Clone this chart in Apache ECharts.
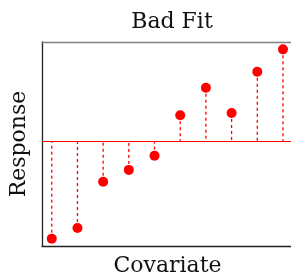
<!DOCTYPE html>
<html>
<head>
<meta charset="utf-8">
<script src="https://cdn.jsdelivr.net/npm/echarts@6/dist/echarts.min.js"></script>
<style>
  html, body { margin: 0; padding: 0; background: #fff; }
  #chart { width: 291px; height: 277px; }
</style>
</head>
<body>
<div id="chart"></div>
<script>
// 数据
const covariate = [1, 2, 3, 4, 5, 6, 7, 8, 9, 10]
const response = [0.36, 0.88, 3.15, 3.73, 4.43, 6.41, 7.76, 6.52, 8.54, 9.64]
const meanResponse = response.reduce((a, b) => a + b, 0) / response.length

const chart = echarts.init(document.getElementById('chart'))
const font = 'DejaVu Serif'

const option = {
  animation: false,
  title: {
    text: 'Bad Fit',
    left: 167,
    textAlign: 'center',
    top: 6,
    textStyle: { fontFamily: font, fontWeight: 'normal', fontSize: 22, color: '#111' }
  },
  // 右侧边框在画面外
  grid: { left: 42, top: 42, width: 251, bottom: 31, outerBoundsMode: 'none' },
  xAxis: [
    {
      type: 'value',
      min: 0.62,
      max: 10.39,
      name: 'Covariate',
      nameLocation: 'middle',
      nameGap: 9,
      nameTextStyle: { fontFamily: font, fontSize: 22, color: '#111', verticalAlign: 'top' },
      axisLine: { show: true, lineStyle: { color: '#222', width: 1.3 } },
      axisTick: { show: false },
      axisLabel: { show: false },
      splitLine: { show: false }
    },
    {
      type: 'value',
      position: 'top',
      min: 0.62,
      max: 10.39,
      axisLine: { show: true, lineStyle: { color: '#808080', width: 1.3 } },
      axisTick: { show: false },
      axisLabel: { show: false },
      splitLine: { show: false }
    }
  ],
  yAxis: {
    type: 'value',
    min: 0,
    max: 10,
    name: 'Response',
    nameLocation: 'middle',
    nameGap: 12,
    nameTextStyle: { fontFamily: font, fontSize: 22, color: '#111' },
    axisLine: { show: true, onZero: false, lineStyle: { color: '#222', width: 1.3 } },
    axisTick: { show: false },
    axisLabel: { show: false },
    splitLine: { show: false }
  },
  series: [
    {
      // 残差虚线
      type: 'custom',
      data: covariate.map((x, i) => [x, response[i]]),
      renderItem: (params, api) => {
        const p = api.coord([api.value(0), api.value(1)])
        const m = api.coord([api.value(0), meanResponse])
        return {
          type: 'line',
          shape: { x1: p[0], y1: p[1], x2: m[0], y2: m[1] },
          style: { stroke: '#ff0000', lineWidth: 1.3, lineDash: [3, 3] },
          silent: true
        }
      },
      z: 2
    },
    {
      type: 'scatter',
      data: covariate.map((x, i) => [x, response[i]]),
      symbolSize: 10,
      itemStyle: { color: '#ff0000', opacity: 1 },
      z: 5,
      // 均值线
      markLine: {
        silent: true,
        symbol: 'none',
        label: { show: false },
        emphasis: { disabled: true },
        data: [
          {
            yAxis: meanResponse,
            lineStyle: { type: 'solid', color: '#ff0000', width: 1.2, opacity: 1 }
          }
        ]
      }
    }
  ]
}

chart.setOption(option)
</script>
</body>
</html>
